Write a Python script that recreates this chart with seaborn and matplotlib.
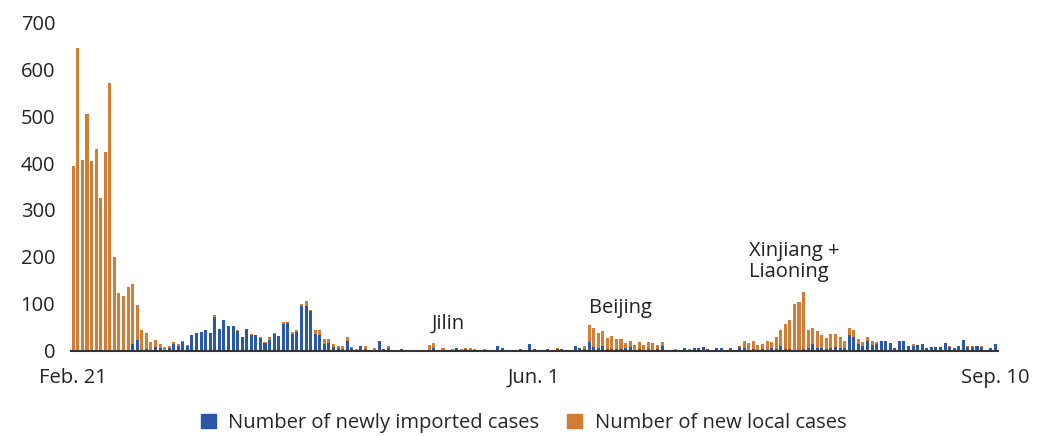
import numpy as np
import pandas as pd
import matplotlib
matplotlib.use("Agg")
import matplotlib.pyplot as plt
from matplotlib.patches import Patch
import seaborn as sns

# daily cases, Feb 21 -> Sep 10
imported = [0, 0, 0, 0, 0, 0, 0, 0, 0, 0,
            0, 0, 1, 15, 24, 2, 4, 2, 9, 6,
            2, 6, 15, 11, 19, 11, 34, 39, 41, 45,
            39, 73, 47, 66, 54, 54, 43, 30, 47, 34,
            34, 28, 17, 24, 36, 32, 58, 60, 36, 41,
            96, 96, 86, 36, 34, 15, 17, 9, 6, 4,
            21, 6, 2, 11, 4, 2, 2, 21, 4, 6,
            1, 0, 4, 1, 2, 2, 1, 1, 2, 6,
            1, 0, 0, 0, 6, 1, 4, 2, 1, 0,
            2, 1, 2, 11, 6, 1, 2, 1, 4, 2,
            15, 4, 1, 1, 4, 2, 4, 4, 2, 2,
            11, 6, 4, 19, 9, 6, 11, 4, 4, 4,
            4, 6, 9, 2, 4, 2, 4, 2, 4, 11,
            0, 2, 2, 2, 6, 2, 6, 6, 9, 4,
            2, 6, 6, 2, 6, 1, 9, 6, 2, 4,
            2, 4, 2, 6, 4, 11, 4, 4, 2, 2,
            4, 6, 15, 6, 6, 4, 6, 9, 6, 6,
            34, 30, 15, 11, 21, 13, 15, 21, 21, 17,
            6, 21, 21, 11, 11, 13, 15, 6, 9, 9,
            9, 17, 9, 6, 11, 24, 9, 9, 11, 9,
            2, 6, 15]

local = [394, 645, 407, 505, 405, 430, 326, 424, 570, 201,
         124, 118, 136, 128, 74, 43, 35, 17, 15, 9,
         7, 5, 4, 4, 2, 2, 0, 0, 0, 0,
         0, 4, 0, 0, 0, 0, 2, 0, 0, 2,
         0, 2, 2, 6, 3, 0, 4, 2, 5, 4,
         3, 11, 2, 9, 11, 11, 9, 6, 5, 7,
         9, 3, 2, 0, 7, 0, 4, 0, 0, 5,
         0, 2, 0, 0, 0, 0, 0, 0, 11, 11,
         0, 6, 2, 4, 0, 3, 2, 4, 3, 2,
         2, 0, 0, 0, 0, 0, 0, 0, 0, 0,
         0, 0, 0, 0, 0, 0, 2, 0, 0, 0,
         0, 0, 7, 37, 40, 33, 32, 24, 28, 22,
         22, 11, 12, 11, 15, 11, 15, 15, 9, 8,
         2, 0, 2, 0, 0, 2, 0, 0, 0, 0,
         0, 0, 0, 0, 0, 0, 2, 15, 15, 17,
         11, 11, 19, 13, 26, 34, 54, 62, 99, 103,
         122, 39, 34, 37, 28, 24, 30, 27, 24, 15,
         15, 15, 11, 8, 9, 8, 4, 0, 0, 0,
         0, 0, 0, 0, 4, 0, 0, 0, 0, 0,
         0, 0, 2, 0, 0, 0, 2, 2, 0, 2,
         0, 0, 0]

tick_pos = [0, 101, 202]
tick_labels = ["Feb. 21", "Jun. 1", "Sep. 10"]

blue = "#2a58a6"
orange = "#d17d35"
text_col = "#222222"
fs = 14.5

df = pd.DataFrame({"day": np.arange(len(imported)),
                   "imported": imported,
                   "local": local})
df["total"] = df["imported"] + df["local"]

sns.set_style("white")
plt.rcParams["font.family"] = ["Open Sans", "DejaVu Sans"]

fig = plt.figure(figsize=(10.47, 4.36), dpi=100)
ax = fig.add_axes([0.0674, 0.195, 0.8858, 0.7545])

# orange = total, blue drawn on top = imported part
sns.barplot(data=df, x="day", y="total", color=orange, saturation=1,
            width=0.66, errorbar=None, linewidth=0, ax=ax)
sns.barplot(data=df, x="day", y="imported", color=blue, saturation=1,
            width=0.66, errorbar=None, linewidth=0, ax=ax)

ax.set_xlim(-0.6, len(df) - 0.4)
ax.set_ylim(0, 700)
ax.set_yticks(range(0, 701, 100))
ax.set_xticks(tick_pos)
ax.set_xticklabels(tick_labels)
ax.set_xlabel("")
ax.set_ylabel("")
ax.tick_params(axis="both", length=0, labelsize=fs, colors=text_col)
ax.tick_params(axis="x", pad=12)
ax.tick_params(axis="y", pad=11)

for s in ["top", "right", "left"]:
    ax.spines[s].set_visible(False)
ax.spines["bottom"].set_color("#333333")
ax.spines["bottom"].set_linewidth(1.5)

# outbreak labels
ax.text(78.5, 47, "Jilin", fontsize=fs, va="baseline", color=text_col)
ax.text(113, 81, "Beijing", fontsize=fs, va="baseline", color=text_col)
ax.text(148, 203, "Xinjiang +", fontsize=fs, va="baseline", color=text_col)
ax.text(148, 157, "Liaoning", fontsize=fs, va="baseline", color=text_col)

handles = [Patch(color=blue, label="Number of newly imported cases"),
           Patch(color=orange, label="Number of new local cases")]
fig.legend(handles=handles, loc="lower center", bbox_to_anchor=(0.5, -0.035),
           ncol=2, frameon=False, fontsize=fs, handlelength=0.75,
           handleheight=0.75, handletextpad=0.6, columnspacing=1.4)

fig.savefig("out.png", dpi=100)
